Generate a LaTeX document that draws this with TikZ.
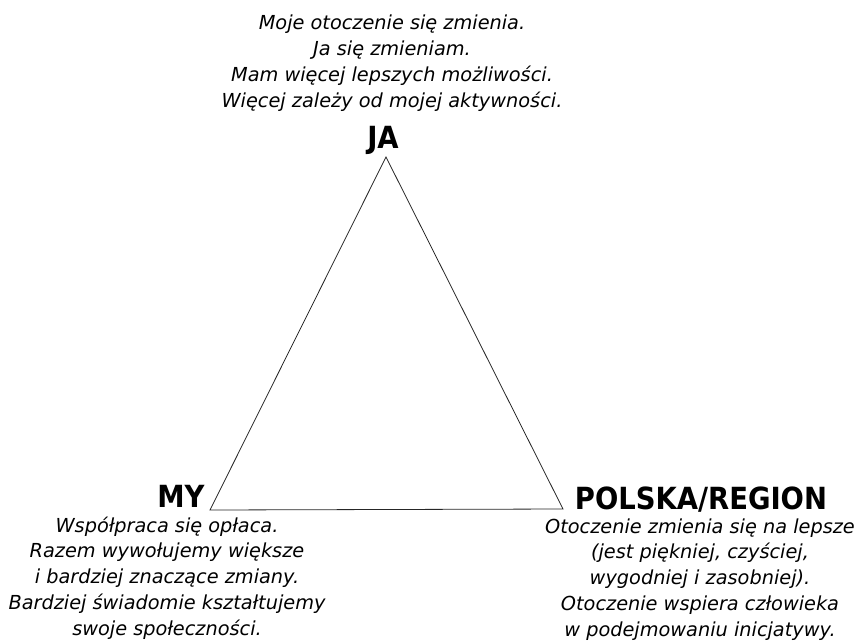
\documentclass[tikz,border=0pt]{standalone}
\usepackage{fontspec}
\setmainfont{DejaVu Sans}
\newfontfamily\headfont{DejaVu Sans Condensed}
\begin{document}
\begin{tikzpicture}[x=1pt,y=-1pt,
  head/.style={font=\headfont\fontsize{30.5}{34}\selectfont\bfseries, inner sep=0pt, anchor=base},
  desc/.style={font=\fontsize{19.3}{25.7}\selectfont\itshape, inner sep=0pt, anchor=base, align=center},
  tri/.style={draw=black!85, line width=0.8pt, line join=miter}]
\useasboundingbox (0,0) rectangle (863,641);
\coordinate (a) at (386,157);
\coordinate (b) at (210,510);
\coordinate (c) at (563,509);
\draw[tri] (a) -- (b) -- (c) -- cycle;
\node[desc] (tja) at (392,107) {Moje otoczenie się zmienia.\\Ja się zmieniam.\\Mam więcej lepszych możliwości.\\Więcej zależy od mojej aktywności.};
\node[head] (ja) at (383,148) {JA};
\node[head] (my) at (181,507) {MY};
\node[desc] (tmy) at (167,635) {Współpraca się opłaca.\\Razem wywołujemy większe\\i bardziej znaczące zmiany.\\Bardziej świadomie kształtujemy\\swoje społeczności.};
\node[head] (pl) at (701,509) {POLSKA/REGION};
\node[desc] (tpl) at (700,636) {Otoczenie zmienia się na lepsze\\(jest piękniej, czyściej,\\wygodniej i zasobniej).\\Otoczenie wspiera człowieka\\w podejmowaniu inicjatywy.};
\end{tikzpicture}
\end{document}
